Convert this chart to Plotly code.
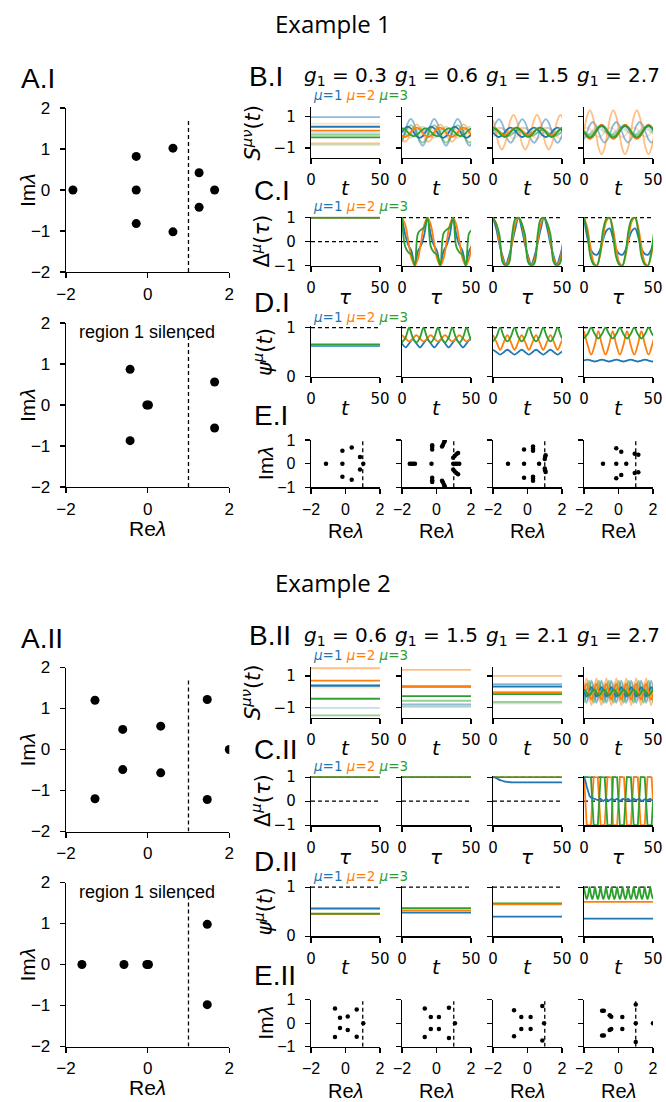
import plotly.graph_objects as go

W, H = 666, 1102
DY2 = 559.5  # vertical offset of the "Example 2" block (px)

MU_RGB = {1: (31, 119, 180), 2: (255, 127, 14), 3: (44, 160, 44)}

TITLES = ['Example 1', 'Example 2']
ROMAN = ['I', 'II']
G1_VALUES = [['0.3', '0.6', '1.5', '2.7'], ['0.6', '1.5', '2.1', '2.7']]

# ---------------- A panels: eigenvalues (Re, Im) ----------------
A1_TOP_RE = [-1.83, -0.28, -0.28, -0.28, 0.62, 0.62, 1.26, 1.26, 1.64]
A1_TOP_IM = [0, 0.82, 0, -0.82, 1.02, -1.02, 0.42, -0.42, 0]
A1_BOT_RE = [-0.43, -0.43, -0.02, 0.02, 1.64, 1.64]
A1_BOT_IM = [0.87, -0.87, 0, 0, 0.56, -0.56]
A2_TOP_RE = [-1.29, -1.29, -0.61, -0.61, 0.32, 0.32, 1.46, 1.46, 2.0]
A2_TOP_IM = [1.2, -1.2, 0.49, -0.49, 0.57, -0.57, 1.22, -1.22, 0]
A2_BOT_RE = [-1.61, -0.58, -0.02, 0.02, 1.46, 1.46]
A2_BOT_IM = [0, 0, 0, 0, 0.98, -0.98]
A_DASH_TOP = 1.7

# ---------------- time grids ----------------
T_CONST = [0, 50]
T_B1 = [0, 2.125, 4.25, 6.375, 8.5, 10.625, 12.75, 14.875, 17, 19.125, 21.25, 23.375, 25.5,
        27.625, 29.75, 31.875, 34, 36.125, 38.25, 40.375, 42.5, 44.625, 46.75, 48.875, 51]
T_C1 = [0, 2.3125, 4.625, 6.9375, 9.25, 11.5625, 13.875, 16.1875, 18.5, 20.8125, 23.125,
        25.4375, 27.75, 30.0625, 32.375, 34.6875, 37, 39.3125, 41.625, 43.9375, 46.25, 48.5625, 50.875]
T_D1 = [0, 2.6, 5.2, 7.8, 10.4, 13, 15.6, 18.2, 20.8, 23.4, 26, 28.6, 31.2, 33.8, 36.4, 39,
        41.6, 44.2, 46.8, 49.4, 52]
T_B2 = [0, 1.8, 3.6, 5.4, 7.2, 9, 10.8, 12.6, 14.4, 16.2, 18, 19.8, 21.6, 23.4, 25.2, 27, 28.8,
        30.6, 32.4, 34.2, 36, 37.8, 39.6, 41.4, 43.2, 45, 46.8, 48.6, 50.4]
T_1 = [0, 1, 2, 3, 4, 5, 6, 7, 8, 9, 10, 11, 12, 13, 14, 15, 16, 17, 18, 19, 20, 21, 22, 23, 24,
       25, 26, 27, 28, 29, 30, 31, 32, 33, 34, 35, 36, 37, 38, 39, 40, 41, 42, 43, 44, 45, 46, 47,
       48, 49, 50]

# ---------------- Example 1, row B: S^{mu nu}(t)  (mu, alpha, values) ----------------
B1_G03 = [(1, 0.5, 0.96), (1, 1.0, 0.35), (1, 0.25, -0.06),
          (2, 0.25, 0.55), (2, 1.0, 0.10), (2, 0.5, -0.71),
          (3, 0.5, -0.16), (3, 1.0, -0.33), (3, 0.25, -0.80)]
B1_G06 = [
    (1, 1.0, [0, .25, .35, .25, 0, -.25, -.35, -.25, 0, .25, .35, .25, 0, -.25, -.35, -.25, 0, .25, .35, .25, 0, -.25, -.35, -.25, 0]),
    (1, 0.5, [-.6, 0, .6, .85, .6, 0, -.6, -.85, -.6, 0, .6, .85, .6, 0, -.6, -.85, -.6, 0, .6, .85, .6, 0, -.6, -.85, -.6]),
    (1, 0.25, [0, -.14, -.2, -.14, 0, .14, .2, .14, 0, -.14, -.2, -.14, 0, .14, .2, .14, 0, -.14, -.2, -.14, 0, .14, .2, .14, 0]),
    (2, 1.0, [-.21, -.3, -.21, 0, .21, .3, .21, 0, -.21, -.3, -.21, 0, .21, .3, .21, 0, -.21, -.3, -.21, 0, .21, .3, .21, 0, -.21]),
    (2, 0.5, [-.44, -.6, -.44, -.05, .34, .5, .34, -.05, -.44, -.6, -.44, -.05, .34, .5, .34, -.05, -.44, -.6, -.44, -.05, .34, .5, .34, -.05, -.44]),
    (2, 0.25, [.21, .3, .21, 0, -.21, -.3, -.21, 0, .21, .3, .21, 0, -.21, -.3, -.21, 0, .21, .3, .21, 0, -.21, -.3, -.21, 0, .21]),
    (3, 1.0, [.25, .18, 0, -.18, -.25, -.18, 0, .18, .25, .18, 0, -.18, -.25, -.18, 0, .18, .25, .18, 0, -.18, -.25, -.18, 0, .18, .25]),
    (3, 0.5, [-.49, -.1, .29, .45, .29, -.1, -.49, -.65, -.49, -.1, .29, .45, .29, -.1, -.49, -.65, -.49, -.1, .29, .45, .29, -.1, -.49, -.65, -.49]),
    (3, 0.25, [.25, 0, -.25, -.35, -.25, 0, .25, .35, .25, 0, -.25, -.35, -.25, 0, .25, .35, .25, 0, -.25, -.35, -.25, 0, .25, .35, .25]),
]
B1_G15 = [
    (1, 1.0, [0, -.21, -.3, -.21, 0, .21, .3, .21, 0, -.21, -.3, -.21, 0, .21, .3, .21, 0, -.21, -.3, -.21, 0, .21, .3, .21, 0]),
    (1, 0.5, [.08, .61, .83, .61, .08, -.45, -.67, -.45, .08, .61, .83, .61, .08, -.45, -.67, -.45, .08, .61, .83, .61, .08, -.45, -.67, -.45, .08]),
    (1, 0.25, [.1, .24, .3, .24, .1, -.04, -.1, -.04, .1, .24, .3, .24, .1, -.04, -.1, -.04, .1, .24, .3, .24, .1, -.04, -.1, -.04, .1]),
    (2, 1.0, [.3, .23, .05, -.13, -.2, -.13, .05, .23, .3, .23, .05, -.13, -.2, -.13, .05, .23, .3, .23, .05, -.13, -.2, -.13, .05, .23, .3]),
    (2, 0.5, [.78, 0, -.78, -1.1, -.78, 0, .78, 1.1, .78, 0, -.78, -1.1, -.78, 0, .78, 1.1, .78, 0, -.78, -1.1, -.78, 0, .78, 1.1, .78]),
    (2, 0.25, [-.3, -.05, .2, .3, .2, -.05, -.3, -.4, -.3, -.05, .2, .3, .2, -.05, -.3, -.4, -.3, -.05, .2, .3, .2, -.05, -.3, -.4, -.3]),
    (3, 1.0, [.3, .21, 0, -.21, -.3, -.21, 0, .21, .3, .21, 0, -.21, -.3, -.21, 0, .21, .3, .21, 0, -.21, -.3, -.21, 0, .21, .3]),
    (3, 0.5, [.09, .15, .09, -.05, -.19, -.25, -.19, -.05, .09, .15, .09, -.05, -.19, -.25, -.19, -.05, .09, .15, .09, -.05, -.19, -.25, -.19, -.05, .09]),
    (3, 0.25, [.11, 0, -.11, -.15, -.11, 0, .11, .15, .11, 0, -.11, -.15, -.11, 0, .11, .15, .11, 0, -.11, -.15, -.11, 0, .11, .15, .11]),
]
B1_G27 = [
    (1, 1.0, [0, -.28, -.4, -.28, 0, .28, .4, .28, 0, -.28, -.4, -.28, 0, .28, .4, .28, 0, -.28, -.4, -.28, 0, .28, .4, .28, 0]),
    (1, 0.5, [-.46, 0, .46, .65, .46, 0, -.46, -.65, -.46, 0, .46, .65, .46, 0, -.46, -.65, -.46, 0, .46, .65, .46, 0, -.46, -.65, -.46]),
    (1, 0.25, [-.08, -.15, -.08, .1, .28, .35, .28, .1, -.08, -.15, -.08, .1, .28, .35, .28, .1, -.08, -.15, -.08, .1, .28, .35, .28, .1, -.08]),
    (2, 1.0, [.03, -.29, -.42, -.29, .03, .35, .48, .35, .03, -.29, -.42, -.29, .03, .35, .48, .35, .03, -.29, -.42, -.29, .03, .35, .48, .35, .03]),
    (2, 0.5, [0, .99, 1.4, .99, 0, -.99, -1.4, -.99, 0, .99, 1.4, .99, 0, -.99, -1.4, -.99, 0, .99, 1.4, .99, 0, -.99, -1.4, -.99, 0]),
    (2, 0.25, [.21, .3, .21, 0, -.21, -.3, -.21, 0, .21, .3, .21, 0, -.21, -.3, -.21, 0, .21, .3, .21, 0, -.21, -.3, -.21, 0, .21]),
    (3, 1.0, [.05, -.22, -.33, -.22, .05, .32, .43, .32, .05, -.22, -.33, -.22, .05, .32, .43, .32, .05, -.22, -.33, -.22, .05, .32, .43, .32, .05]),
    (3, 0.5, [.1, -.11, -.2, -.11, .1, .31, .4, .31, .1, -.11, -.2, -.11, .1, .31, .4, .31, .1, -.11, -.2, -.11, .1, .31, .4, .31, .1]),
    (3, 0.25, [-.14, -.2, -.14, 0, .14, .2, .14, 0, -.14, -.2, -.14, 0, .14, .2, .14, 0, -.14, -.2, -.14, 0, .14, .2, .14, 0, -.14]),
]

# ---------------- Example 1, row C: Delta^mu(tau) ----------------
C1_G03 = [(1, 1.0, 1.0), (2, 1.0, 1.0), (3, 1.0, 1.0)]
C1_G06 = [
    (1, 1.0, [1, .3, -.15, -.4, -1, -.4, -.15, .3, 1, .3, -.15, -.4, -1, -.4, -.15, .3, 1, .3, -.15, -.4, -1, -.4, -.15]),
    (2, 1.0, [1, .71, 0, -.71, -1, -.71, 0, .71, 1, .71, 0, -.71, -1, -.71, 0, .71, 1, .71, 0, -.71, -1, -.71, 0]),
    (3, 1.0, [1, -.2, -.45, -.55, -1, .35, .5, .6, 1, -.2, -.45, -.55, -1, .35, .5, .6, 1, -.2, -.45, -.55, -1, .35, .5]),
]
C1_G15 = [
    (1, 1.0, [1, .55, -.1, -.6, -.95, -.6, -.05, .55, 1, .55, -.1, -.6, -.95, -.6, -.05, .55, 1, .55, -.1, -.6, -.95, -.6, -.05]),
    (2, 1.0, [1, .75, .05, -.7, -1, -.75, 0, .75, 1, .75, .05, -.7, -1, -.75, 0, .75, 1, .75, .05, -.7, -1, -.75, 0]),
    (3, 1.0, [1, .75, .3, -.85, -1, -.9, .3, .95, 1, .75, .3, -.85, -1, -.9, .3, .95, 1, .75, .3, -.85, -1, -.9, .3]),
]
C1_G27 = [
    (1, 1.0, [1, .2, -.3, -.5, -.55, -.35, .1, .45, .55, .2, -.3, -.5, -.55, -.35, .1, .45, .55, .2, -.3, -.5, -.55, -.35, .1]),
    (2, 1.0, [1, .6, -.2, -.85, -1, -.6, .2, .85, 1, .6, -.2, -.85, -1, -.6, .2, .85, 1, .6, -.2, -.85, -1, -.6, .2]),
    (3, 1.0, [1, .4, -.6, -.95, -1, -.5, .5, .95, 1, .4, -.6, -.95, -1, -.5, .5, .95, 1, .4, -.6, -.95, -1, -.5, .5]),
]

# ---------------- Example 1, row D: psi^mu(t) ----------------
D1_G03 = [(1, 1.0, 0.63), (2, 1.0, 0.645), (3, 1.0, 0.66)]
D1_G06 = [
    (1, 1.0, [.68, .6, .68, .76, .68, .6, .68, .76, .68, .6, .68, .76, .68, .6, .68, .76, .68, .6, .68, .76, .68]),
    (2, 1.0, [.85, .78, .72, .78, .85, .78, .72, .78, .85, .78, .72, .78, .85, .78, .72, .78, .85, .78, .72, .78, .85]),
    (3, 1.0, [.7, .8, 1, .8, .7, .8, 1, .8, .7, .8, 1, .8, .7, .8, 1, .8, .7, .8, 1, .8, .7]),
]
D1_G15 = [
    (1, 1.0, [.55, .5, .45, .5, .55, .5, .45, .5, .55, .5, .45, .5, .55, .5, .45, .5, .55, .5, .45, .5, .55]),
    (2, 1.0, [.85, .7, .55, .7, .85, .7, .55, .7, .85, .7, .55, .7, .85, .7, .55, .7, .85, .7, .55, .7, .85]),
    (3, 1.0, [.72, .82, 1, .82, .72, .82, 1, .82, .72, .82, 1, .82, .72, .82, 1, .82, .72, .82, 1, .82, .72]),
]
D1_G27 = [
    (1, 1.0, [.33, .35, .33, .31, .33, .35, .33, .31, .33, .35, .33, .31, .33, .35, .33, .31, .33, .35, .33, .31, .33]),
    (2, 1.0, [.93, .65, .45, .65, .93, .65, .45, .65, .93, .65, .45, .65, .93, .65, .45, .65, .93, .65, .45, .65, .93]),
    (3, 1.0, [.78, .87, 1, .87, .78, .87, 1, .87, .78, .87, 1, .87, .78, .87, 1, .87, .78, .87, 1, .87, .78]),
]

# ---------------- Example 1, row E: eigenvalues ----------------
E1_RE = [[-1.13, -0.18, -0.18, -0.18, 0.36, 0.36, 0.84, 0.84, 1.03],
         [-1.55, -1.45, -1.35, -1.25, -0.29, -0.25, -0.25, -0.25, -0.25, -0.25, -0.25,
          0.32, 0.38, 0.44, 0.48, 0.32, 0.38, 0.44, 0.48,
          0.97, 1.05, 1.15, 1.25, 0.97, 1.05, 1.15, 1.25, 0.97, 1.1, 1.2, 1.32],
         [-1.13, -0.2, -0.2, -0.2, 0.32, 0.32, 0.32, 0.32, 0.32, 0.32, 0.67, 1.0, 1.02, 1.05, 1.0, 1.02, 1.05],
         [-0.9, -0.13, 0.16, -0.13, 0.45, -0.13, 0.16, 0.94, 1.15, 0.94, 1.15]]
E1_IM = [[0, 0.55, 0, -0.55, 0.68, -0.68, 0.28, -0.25, 0],
         [0, 0, 0, 0, 0, 0.6, 0.7, 0.78, -0.6, -0.7, -0.78,
          0.72, 0.8, 0.9, 0.97, -0.72, -0.8, -0.9, -0.97,
          0.25, 0.32, 0.4, 0.45, -0.25, -0.32, -0.4, -0.45, 0, 0, 0, 0],
         [0, 0.6, 0, -0.6, 0.55, 0.63, 0.72, -0.55, -0.63, -0.72, 0, 0.2, 0.28, 0.35, -0.2, -0.28, -0.35],
         [0, 0.65, 0.5, 0, 0, -0.62, -0.48, 0.42, 0.38, -0.4, -0.36]]

# ---------------- Example 2, row B ----------------
B2_G06 = [(1, 1.0, 0.38), (1, 0.5, 0.42), (1, 0.25, -1.02),
          (2, 0.5, 1.49), (2, 1.0, 0.70), (2, 0.25, 0.26),
          (3, 0.5, -0.45), (3, 1.0, -0.43), (3, 0.5, -1.49)]
B2_G15 = [(1, 1.0, 0.33), (1, 0.5, -0.80), (1, 0.25, -0.96),
          (2, 0.5, 1.38), (2, 1.0, 0.35), (2, 0.25, 0.30),
          (3, 1.0, -0.28), (3, 0.5, -0.57), (3, 0.25, -0.90)]
B2_G21 = [(1, 1.0, 0.32), (1, 0.5, 0.49), (1, 0.25, 0.40),
          (2, 0.5, 1.00), (2, 1.0, -0.04), (2, 0.25, 0.00),
          (3, 1.0, -0.15), (3, 0.5, -0.64), (3, 0.25, -0.74)]
B2_G27 = [
    (1, 0.5, [0, -.7, 0, .7, 0, -.7, 0, .7, 0, -.7, 0, .7, 0, -.7, 0, .7, 0, -.7, 0, .7, 0, -.7, 0, .7, 0, -.7, 0, .7, 0]),
    (1, 0.25, [.4, 0, -.4, 0, .4, 0, -.4, 0, .4, 0, -.4, 0, .4, 0, -.4, 0, .4, 0, -.4, 0, .4, 0, -.4, 0, .4, 0, -.4, 0, .4]),
    (2, 0.5, [0, .85, 0, -.85, 0, .85, 0, -.85, 0, .85, 0, -.85, 0, .85, 0, -.85, 0, .85, 0, -.85, 0, .85, 0, -.85, 0, .85, 0, -.85, 0]),
    (2, 0.25, [.6, 0, -.6, 0, .6, 0, -.6, 0, .6, 0, -.6, 0, .6, 0, -.6, 0, .6, 0, -.6, 0, .6, 0, -.6, 0, .6, 0, -.6, 0, .6]),
    (3, 0.5, [-.7, 0, .7, 0, -.7, 0, .7, 0, -.7, 0, .7, 0, -.7, 0, .7, 0, -.7, 0, .7, 0, -.7, 0, .7, 0, -.7, 0, .7, 0, -.7]),
    (3, 0.25, [-.4, 0, .4, 0, -.4, 0, .4, 0, -.4, 0, .4, 0, -.4, 0, .4, 0, -.4, 0, .4, 0, -.4, 0, .4, 0, -.4, 0, .4, 0, -.4]),
    (1, 1.0, [0, -.3, 0, .3, 0, -.3, 0, .3, 0, -.3, 0, .3, 0, -.3, 0, .3, 0, -.3, 0, .3, 0, -.3, 0, .3, 0, -.3, 0, .3, 0]),
    (2, 1.0, [0, .5, 0, -.5, 0, .5, 0, -.5, 0, .5, 0, -.5, 0, .5, 0, -.5, 0, .5, 0, -.5, 0, .5, 0, -.5, 0, .5, 0, -.5, 0]),
    (3, 1.0, [.15, -.05, -.25, -.05, .15, -.05, -.25, -.05, .15, -.05, -.25, -.05, .15, -.05, -.25, -.05, .15, -.05, -.25, -.05, .15, -.05, -.25, -.05, .15, -.05, -.25, -.05, .15]),
]

# ---------------- Example 2, row C ----------------
C2_ALL_ONE = [(1, 1.0, 1.0), (2, 1.0, 1.0), (3, 1.0, 1.0)]
C2_G21_T = [0, 2, 4, 6, 8, 10, 12, 15, 20, 50]
C2_G21_BLUE = [1, .97, .91, .86, .82, .80, .79, .78, .78, .78]
C2_G27_GREEN = [1, 1, 1, 1, 1, 1, 0, -1, -1, -1, -1, 0, 1, 1, 1, 1, 0, -1, -1, -1, -1, 1, 1, 1, 1, 0,
                -1, -1, -1, -1, 0, 1, 1, 1, 1, 0, -1, -1, -1, -1, 0, 1, 1, 1, 1, 0, -1, -1, -1, -1, 0]
C2_G27_ORANGE = [1, 0, -1, -1, -1, -1, 0, 1, 1, 1, 1, 0, -1, -1, -1, -1, 0, 1, 1, 1, 1, -1, -1, -1, -1, 0,
                 1, 1, 1, 1, 0, -1, -1, -1, -1, 0, 1, 1, 1, 1, 0, -1, -1, -1, -1, 0, 1, 1, 1, 1, 0]
C2_G27_BLUE_T = [0, 1, 2, 3, 4, 5, 6, 8, 10, 12, 14, 16, 18, 20, 22, 24, 26, 28, 30, 32, 34, 36, 38, 40,
                 42, 44, 46, 48, 50]
C2_G27_BLUE = [1, .85, .6, .38, .22, .15, .13, .1, .05, .1, 0, .1, .02, .1, .05, .1, 0, .1, .05, .1, 0, .1,
               .05, .1, 0, .08, .05, .1, 0]

# ---------------- Example 2, row D ----------------
D2_G06 = [(2, 1.0, 0.45), (1, 1.0, 0.565), (3, 1.0, 0.46)]
D2_G15 = [(1, 1.0, 0.48), (2, 1.0, 0.52), (3, 1.0, 0.57)]
D2_G21 = [(1, 1.0, 0.40), (3, 1.0, 0.67), (2, 1.0, 0.65)]
D2_G27_CONST = [(1, 1.0, 0.36), (2, 1.0, 0.70)]
D2_G27_GREEN = [1, .85, .76, .85, 1, .85, .76, .85, 1, .85, .76, .85, 1, .85, .76, .85, 1, .85, .76, .85,
                1, .85, .76, .85, 1, .85, .76, .85, 1, .85, .76, .85, 1, .85, .76, .85, 1, .85, .76, .85,
                1, .85, .76, .85, 1, .85, .76, .85, 1, .85, .76]

# ---------------- Example 2, row E ----------------
E2_RE = [[-0.61, -0.32, 0.13, -0.32, 0.13, -0.61, 0.65, 0.65, 1.03],
         [-0.68, -0.33, 0.14, -0.33, 0.14, -0.68, 0.72, 0.72, 1.07],
         [-0.78, -0.36, 0.18, -0.36, 0.18, -0.78, 0.86, 0.96, 0.86],
         [-0.95, -0.85, -0.51, -0.42, 0.22, -0.51, -0.42, 0.22, -0.95, -0.85, 1.0, 1.0, 1.0, 2.0]]
E2_IM = [[0.62, 0.23, 0.28, -0.21, -0.29, -0.59, 0.58, -0.57, 0],
         [0.62, 0.26, 0.26, -0.25, -0.25, -0.59, 0.65, -0.63, 0],
         [0.55, 0.26, 0.26, -0.25, -0.25, -0.55, 0.72, 0, -0.73],
         [0.52, 0.52, 0.33, 0.27, 0.26, -0.29, -0.25, -0.25, -0.52, -0.52, 0.79, 0, -0.8, 0]]
E_DASH_TOP = [1.0, 0.93]


# ============================ helpers ============================
def rgba(mu, a):
    r, g, b = MU_RGB[mu]
    return f'rgba({r},{g},{b},{a})'


def consts(levels):
    return [(mu, a, T_CONST, [lv, lv], 'linear') for mu, a, lv in levels]


def waves(t, items, shape='spline'):
    return [(mu, a, t, ys, shape) for mu, a, ys in items]


fig = go.Figure()
layout = dict(width=W, height=H, margin=dict(l=0, r=0, t=0, b=0, autoexpand=False), autosize=False,
              paper_bgcolor='white', plot_bgcolor='white', showlegend=False, template='none')
ann = []
n_ax = [0]

F_DV = 'DejaVu Sans'
F_AR = 'Liberation Sans, Arial'
MINUS = '\u2212'


def fmt(v):
    s = ('%g' % abs(v))
    return (MINUS + s) if v < 0 else s


def axes(px0, px1, py0, py1, xr, yr, xt, yt, show_x, show_y, font, xstand=3, ystand=6):
    n_ax[0] += 1
    k = n_ax[0]
    s = '' if k == 1 else str(k)
    common = dict(showline=True, linecolor='black', linewidth=1.3, showgrid=False, zeroline=False,
                  ticks='outside', ticklen=5, tickwidth=1.3, tickcolor='black', tickfont=font,
                  fixedrange=True, tickmode='array', automargin=False)
    layout['xaxis' + s] = dict(common, domain=[px0 / W, px1 / W], range=xr, anchor='y' + s,
                               tickvals=xt, ticktext=[fmt(v) for v in xt], showticklabels=show_x,
                               ticklabelstandoff=xstand)
    layout['yaxis' + s] = dict(common, domain=[1 - py1 / H, 1 - py0 / H], range=yr, anchor='x' + s,
                               tickvals=yt, ticktext=[fmt(v) for v in yt], showticklabels=show_y,
                               ticklabelstandoff=ystand)
    return 'x' + s, 'y' + s


def add_line(ax, x, y, color, width=1.8, dash=None, shape='linear'):
    fig.add_trace(go.Scatter(x=x, y=y, xaxis=ax[0], yaxis=ax[1], mode='lines',
                             line=dict(color=color, width=width, dash=dash, shape=shape),
                             hoverinfo='skip', showlegend=False))


def add_dots(ax, x, y, size):
    fig.add_trace(go.Scatter(x=x, y=y, xaxis=ax[0], yaxis=ax[1], mode='markers',
                             marker=dict(color='black', size=size, line=dict(width=0)),
                             hoverinfo='skip', showlegend=False))


def text(px, py, s, size, family, xanchor='center', yanchor='middle', angle=0):
    ann.append(dict(x=px / W, y=1 - py / H, xref='paper', yref='paper', text=s, showarrow=False,
                    font=dict(size=size, family=family, color='black'), xanchor=xanchor,
                    yanchor=yanchor, textangle=angle))


COLS = [(311, 380), (402, 471), (493, 562), (584, 653)]
ROW_B, ROW_C, ROW_D, ROW_E = (107, 158), (216.7, 265.7), (326.2, 376.7), (440, 487.3)
A_X = (66, 229.3)
A_TOP, A_BOT = (108, 272), (323, 487)
DASH = '4px,3px'
LEGEND = ("<span style='color:#1f77b4'><i>\u03bc</i>=1</span> "
          "<span style='color:#ff7f0e'><i>\u03bc</i>=2</span> "
          "<span style='color:#2ca02c'><i>\u03bc</i>=3</span>")

EXAMPLES = [
    dict(a_top=(A1_TOP_RE, A1_TOP_IM), a_bot=(A1_BOT_RE, A1_BOT_IM),
         B=[consts(B1_G03), waves(T_B1, B1_G06), waves(T_B1, B1_G15), waves(T_B1, B1_G27)],
         C=[consts(C1_G03), waves(T_C1, C1_G06), waves(T_C1, C1_G15), waves(T_C1, C1_G27)],
         D=[consts(D1_G03), waves(T_D1, D1_G06), waves(T_D1, D1_G15), waves(T_D1, D1_G27)],
         E=(E1_RE, E1_IM)),
    dict(a_top=(A2_TOP_RE, A2_TOP_IM), a_bot=(A2_BOT_RE, A2_BOT_IM),
         B=[consts(B2_G06), consts(B2_G15), consts(B2_G21), waves(T_B2, B2_G27)],
         C=[consts(C2_ALL_ONE), consts(C2_ALL_ONE),
            [(2, 1.0, T_CONST, [1, 1], 'linear'), (3, 1.0, T_CONST, [1, 1], 'linear'),
             (1, 1.0, C2_G21_T, C2_G21_BLUE, 'spline')],
            [(2, 1.0, T_1, C2_G27_ORANGE, 'linear'), (3, 1.0, T_1, C2_G27_GREEN, 'linear'),
             (1, 1.0, C2_G27_BLUE_T, C2_G27_BLUE, 'linear')]],
         D=[consts(D2_G06), consts(D2_G15), consts(D2_G21),
            consts(D2_G27_CONST) + [(3, 1.0, T_1, D2_G27_GREEN, 'spline')]],
         E=(E2_RE, E2_IM)),
]

for ei, ex in enumerate(EXAMPLES):
    o = ei * DY2
    rn = ROMAN[ei]
    text(333, 23 + o, TITLES[ei], 24, 'Open Sans', 'center', 'middle')

    # ---- A panels ----
    for (yy0, yy1), (re, im), bottom in ((A_TOP, ex['a_top'], False), (A_BOT, ex['a_bot'], True)):
        ax = axes(A_X[0], A_X[1], yy0 + o, yy1 + o, [-2, 2], [-2, 2], [-2, 0, 2], [-2, -1, 0, 1, 2],
                  True, True, dict(family=F_AR, size=17, color='black'), xstand=1, ystand=6)
        add_line(ax, [1, 1], [-2, A_DASH_TOP], 'black', 1.3, DASH)
        add_dots(ax, re, im, 9)
        text(27, (yy0 + yy1) / 2 + o, 'Im<i>\u03bb</i>', 21, F_AR, angle=-90)
        if bottom:
            text(77, 332 + o, 'region 1 silenced', 18, F_AR, 'left', 'middle')
            text((A_X[0] + A_X[1]) / 2, 528 + o, 'Re<i>\u03bb</i>', 21, F_AR)
    text(19, 79 + o, 'A.' + rn, 28, F_AR, 'left', 'middle')

    # ---- B/C/D/E panel letters and titles ----
    text(247, 76 + o, 'B.' + rn, 28, F_AR, 'left', 'middle')
    text(252, 190 + o, 'C.' + rn, 28, F_AR, 'left', 'middle')
    text(252, 302 + o, 'D.' + rn, 28, F_AR, 'left', 'middle')
    text(252, 416 + o, 'E.' + rn, 28, F_AR, 'left', 'middle')

    for ci, (cx0, cx1) in enumerate(COLS):
        cxm = (cx0 + cx1) / 2
        first = ci == 0
        text(cxm, 76 + o, '<i>g</i><sub>1</sub> = ' + G1_VALUES[ei][ci], 20, F_DV)

        # row B
        ax = axes(cx0, cx1, ROW_B[0] + o, ROW_B[1] + o, [0, 50], [-1.63, 1.6], [0, 50], [-1, 1],
                  True, first, dict(family=F_DV, size=15, color='black'))
        for mu, a, t, y, sh in sorted(ex['B'][ci], key=lambda s: s[1]):
            add_line(ax, t, y, rgba(mu, a), 1.8, None, sh)
        text(cxm, 188 + o, '<i>t</i>', 20, F_DV)

        # row C
        ax = axes(cx0, cx1, ROW_C[0] + o, ROW_C[1] + o, [0, 50], [-1, 1.04], [0, 50], [-1, 0, 1],
                  True, first, dict(family=F_DV, size=15, color='black'))
        add_line(ax, [0, 50], [1, 1], 'black', 1.3, DASH)
        add_line(ax, [0, 50], [0, 0], 'black', 1.3, DASH)
        for mu, a, t, y, sh in ex['C'][ci]:
            add_line(ax, t, y, rgba(mu, a), 1.8, None, sh)
        text(cxm, 297 + o, '<i>\u03c4</i>', 20, F_DV)

        # row D
        ax = axes(cx0, cx1, ROW_D[0] + o, ROW_D[1] + o, [0, 50], [0, 1.03], [0, 50], [0, 1],
                  True, first, dict(family=F_DV, size=15, color='black'))
        add_line(ax, [0, 50], [1, 1], 'black', 1.3, DASH)
        for mu, a, t, y, sh in ex['D'][ci]:
            add_line(ax, t, y, rgba(mu, a), 1.8, None, sh)
        text(cxm, 408 + o, '<i>t</i>', 20, F_DV)

        # row E
        ax = axes(cx0, cx1, ROW_E[0] + o, ROW_E[1] + o, [-2, 2], [-1, 1], [-2, 0, 2], [-1, 0, 1],
                  True, first, dict(family=F_AR, size=16, color='black'), xstand=2)
        add_line(ax, [1, 1], [-1, E_DASH_TOP[ei]], 'black', 1.3, DASH)
        add_dots(ax, ex['E'][0][ci], ex['E'][1][ci], 4.5)
        text(cxm, 531 + o, 'Re<i>\u03bb</i>', 20, F_AR)

    # legends and y labels for first column
    for ly in (95, 206.5, 316.5):
        text(311, ly + o, LEGEND, 13.5, F_DV, 'left', 'middle')
    text(251, (ROW_B[0] + ROW_B[1]) / 2 + o, '<i>S</i><sup><i>\u03bc\u03bd</i></sup>(<i>t</i>)', 21, F_DV, angle=-90)
    text(261, 241.5 + o, '\u0394<sup><i>\u03bc</i></sup>(<i>\u03c4</i>)', 21, F_DV, angle=-90)
    text(263, 352 + o, '<i>\u03c8</i><sup><i>\u03bc</i></sup>(<i>t</i>)', 21, F_DV, angle=-90)
    text(265.5, (ROW_E[0] + ROW_E[1]) / 2 + o, 'Im<i>\u03bb</i>', 21, F_AR, angle=-90)

layout['annotations'] = ann
fig.update_layout(**layout)
fig.write_html('out.html', config={'displayModeBar': False, 'staticPlot': True},
               post_script="document.body.style.margin='0';document.body.style.padding='0';"
                           "document.body.style.overflow='hidden';")
